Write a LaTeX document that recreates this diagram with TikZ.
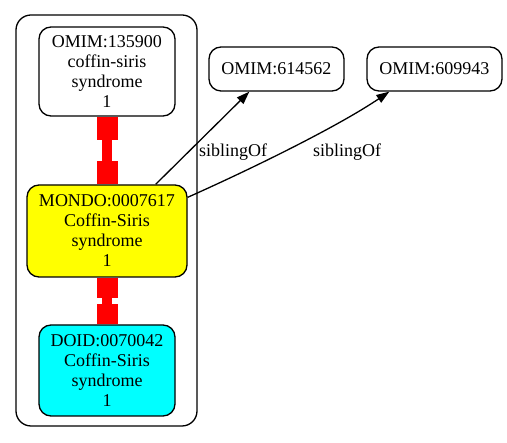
\documentclass[tikz,border=0pt]{standalone}
\usepackage{fontspec}
\setmainfont{Liberation Serif}
\usetikzlibrary{arrows.meta}
\definecolor{termYellow}{RGB}{255,255,0}
\definecolor{termCyan}{RGB}{0,255,255}
\definecolor{barRed}{RGB}{255,0,0}
\tikzset{
    TERM/.style={draw=black, line width=1.3pt, shape=rectangle,
        rounded corners=12pt, align=center, inner sep=0pt,
        font={\fontsize{18}{20}\selectfont}},
    WHITE_TERM/.style={TERM, fill=white},
    YELLOW_TERM/.style={TERM, fill=termYellow},
    CYAN_TERM/.style={TERM, fill=termCyan},
    CLUSTER/.style={draw=black, line width=1.3pt, rounded corners=15pt},
    EDGE/.style={draw=black, line width=1.3pt,
        -{Triangle[length=13pt,width=9pt]}},
    EDGE_LABEL/.style={font={\fontsize{18}{20}\selectfont}},
    RED_BAR/.style={draw=barRed, line width=10pt,
        {Rectangle[length=#1,width=21pt,line width=0pt]}-{Rectangle[length=#1,width=21pt,line width=0pt]}}
}
\pgfdeclarelayer{edgelayer}
\pgfdeclarelayer{nodelayer}
\pgfsetlayers{edgelayer,nodelayer,main}
\begin{document}
\begin{tikzpicture}[x=1pt, y=-1pt]
    \useasboundingbox (0,0) rectangle (507,443);
    \begin{pgfonlayer}{edgelayer}
        \draw[CLUSTER] (16,15) rectangle (197,426);
    \end{pgfonlayer}
    \begin{pgfonlayer}{nodelayer}
        \node [WHITE_TERM, minimum width=136pt, minimum height=89pt] (omimA) at (107,71.5) {OMIM:135900\\coffin-siris\\syndrome\\1};
        \node [YELLOW_TERM, minimum width=160pt, minimum height=92pt] (mondo) at (107,231) {MONDO:0007617\\Coffin-Siris\\syndrome\\1};
        \node [CYAN_TERM, minimum width=136pt, minimum height=91pt] (doid) at (107,370.5) {DOID:0070042\\Coffin-Siris\\syndrome\\1};
        \node [WHITE_TERM, minimum width=135pt, minimum height=44pt] (omimB) at (276.5,69) {OMIM:614562};
        \node [WHITE_TERM, minimum width=135pt, minimum height=44pt] (omimC) at (434.5,69) {OMIM:609943};
        \node [EDGE_LABEL] (lab1) at (233,152) {siblingOf};
        \node [EDGE_LABEL] (lab2) at (347,152) {siblingOf};
    \end{pgfonlayer}
    \begin{pgfonlayer}{edgelayer}
        \draw[RED_BAR=23pt] (omimA.south) to (mondo.north);
        \draw[RED_BAR=20.5pt] (mondo.south) to (doid.north);
        \draw[EDGE] ([xshift=-32pt]mondo.north east) to ([xshift=41pt]omimB.south west);
        \draw[EDGE] ([yshift=-13pt]mondo.north east) .. controls (260,165) and (340,125) .. ([xshift=23pt]omimC.south west);
    \end{pgfonlayer}
\end{tikzpicture}
\end{document}
